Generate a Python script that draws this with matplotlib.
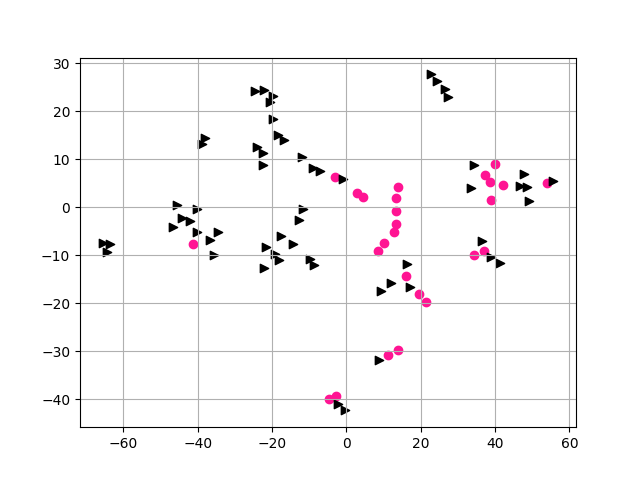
import matplotlib
matplotlib.use("Agg")
import matplotlib.pyplot as plt

# pink circles
pink_x = [-3.0, 2.9, 4.5, 13.9, 13.4, 13.4, 13.4, 12.9, 10.2, 8.6,
          16.1, 19.6, 21.5, 40.1, 37.4, 38.5, 42.0, 38.8, 53.9,
          36.9, 34.2, -41.3, 11.3, 13.9, -4.7, -2.8]
pink_y = [6.25, 2.9, 2.1, 4.2, 1.9, -0.8, -3.5, -5.2, -7.5, -9.0,
          -14.2, -18.0, -19.8, 9.0, 6.7, 5.2, 4.6, 1.46, 5.0,
          -9.0, -10.0, -7.7, -30.8, -29.8, -40.0, -39.2]

# black triangles
tri_x = [-24.6, -22.2, -19.8, -20.6, -19.8, -18.4, -16.8, -24.1, -22.4, -22.4,
         -11.9, -9.0, -7.1, -0.9, -38.1, -38.9,
         22.8, 24.5, 26.4, 27.4, 34.2, 33.6, 47.9, 46.6, 48.5, 49.0, 55.7,
         -45.7, -40.3, -44.3, -42.1, -46.7, -40.3, -34.6, -36.7, -35.7,
         -65.6, -63.7, -64.5,
         -11.7, -12.7, -17.6, -14.4, -21.6, -19.2, -18.1, -22.2, -9.8, -8.7,
         16.4, 12.1, 17.2, 9.4, 36.6, 39.0, 41.2,
         8.8, -2.2, -0.3]
tri_y = [24.2, 24.4, 23.3, 21.9, 18.5, 15.0, 14.0, 12.5, 11.3, 8.75,
         10.4, 8.1, 7.5, 6.0, 14.4, 13.1,
         27.7, 26.25, 24.6, 22.9, 8.75, 4.0, 6.9, 4.4, 4.2, 1.25, 5.4,
         0.4, -0.4, -2.3, -2.9, -4.0, -5.2, -5.2, -6.9, -10.0,
         -7.5, -7.7, -9.4,
         -0.4, -2.7, -6.0, -7.7, -8.3, -9.8, -11.0, -12.7, -10.8, -12.1,
         -11.9, -15.8, -16.5, -17.5, -7.1, -10.4, -11.5,
         -31.9, -41.0, -42.3]

fig, ax = plt.subplots(figsize=(6.4, 4.8), dpi=100)
ax.scatter(pink_x, pink_y, color="deeppink", marker="o")
ax.scatter(tri_x, tri_y, color="black", marker=">")
ax.grid(True)
fig.savefig("out.png")
